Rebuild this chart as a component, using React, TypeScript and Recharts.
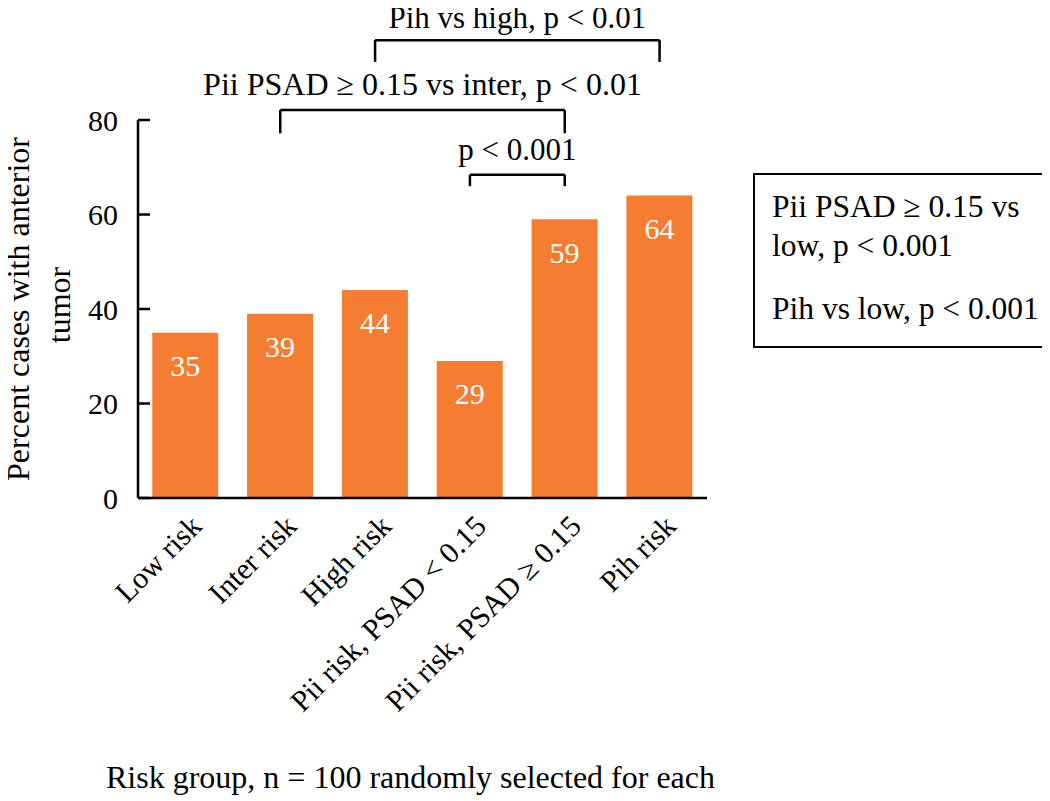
import React from 'react';
import { BarChart, Bar, XAxis, YAxis, LabelList, ReferenceLine } from 'recharts';

const FONT = '"Liberation Serif", "Times New Roman", serif';

const categories = [
  'Low risk',
  'Inter risk',
  'High risk',
  'Pii risk, PSAD < 0.15',
  'Pii risk, PSAD ≥ 0.15',
  'Pih risk',
];
const percents = [35, 39, 44, 29, 59, 64];
const yTicks = [0, 20, 40, 60, 80];

// significance brackets (y in axis units)
const bracketLabels = ['Pih vs high, p < 0.01', 'Pii PSAD ≥ 0.15 vs inter, p < 0.01', 'p < 0.001'];
const bracketFrom = ['High risk', 'Inter risk', 'Pii risk, PSAD < 0.15'];
const bracketTo = ['Pih risk', 'Pii risk, PSAD ≥ 0.15', 'Pii risk, PSAD ≥ 0.15'];
const bracketTop = [96.9, 82.1, 68.4];
const bracketBottom = [92.3, 77.2, 66.0];
const bracketFont = [31, 32, 31];
const bracketGap = [12, 15, 15];

const noteFirst = ['Pii PSAD ≥ 0.15 vs', 'low, p < 0.001'];
const noteSecond = 'Pih vs low, p < 0.001';

const data = categories.map((name, i) => ({ name, value: percents[i] }));

const XTick = (props: any) => {
  const { x, y, payload } = props;
  return (
    <g transform={`translate(${x + 18},${y + 22})`}>
      <text textAnchor="end" transform="rotate(-45)" fill="#000" fontSize={30} fontFamily={FONT}>
        {payload.value}
      </text>
    </g>
  );
};

const YLabel = (props: any) => {
  const vb = props.viewBox;
  const cy = vb.y + vb.height / 2;
  return (
    <g fill="#000" fontSize={32} fontFamily={FONT}>
      <text transform={`translate(29,${cy}) rotate(-90)`} textAnchor="middle">
        Percent cases with anterior
      </text>
      <text transform={`translate(70,${cy - 4}) rotate(-90)`} textAnchor="middle">
        tumor
      </text>
    </g>
  );
};

const XLabel = (props: any) => {
  const vb = props.viewBox;
  return (
    <text x={vb.x + vb.width / 2 - 12} y={vb.y + vb.height} textAnchor="middle" fill="#000" fontSize={32} fontFamily={FONT}>
      Risk group, n = 100 randomly selected for each
    </text>
  );
};

export default function App() {
  return (
    <div style={{ position: 'relative', left: -8, top: -8, width: 1050, height: 801, fontFamily: FONT }}>
      <BarChart
        width={1050}
        height={801}
        data={data}
        margin={{ top: 120, right: 343, left: 0, bottom: 13 }}
        barCategoryGap="15%"
      >
        <XAxis
          dataKey="name"
          interval={0}
          height={290}
          tickLine={false}
          axisLine={{ stroke: '#000', strokeWidth: 2.5 }}
          tick={<XTick />}
          label={<XLabel />}
        />
        <YAxis
          width={138}
          domain={[0, 80]}
          ticks={yTicks}
          tickSize={-12}
          tickMargin={32}
          axisLine={{ stroke: '#000', strokeWidth: 2.5 }}
          tickLine={{ stroke: '#000', strokeWidth: 2.5 }}
          tick={{ fill: '#000', fontSize: 30, fontFamily: FONT }}
          label={<YLabel />}
        />
        <Bar dataKey="value" fill="#F47D31" isAnimationActive={false}>
          <LabelList dataKey="value" position="insideTop" offset={22} fill="#fff" fontSize={30} fontFamily={FONT} />
        </Bar>
        {bracketLabels.map((label, i) => (
          <React.Fragment key={label}>
            <ReferenceLine
              segment={[{ x: bracketFrom[i], y: bracketTop[i] }, { x: bracketTo[i], y: bracketTop[i] }]}
              stroke="#000"
              strokeWidth={2.5}
              ifOverflow="visible"
              label={{ value: label, position: 'top', offset: bracketGap[i], fill: '#000', fontSize: bracketFont[i], fontFamily: FONT }}
            />
            <ReferenceLine
              segment={[{ x: bracketFrom[i], y: bracketTop[i] }, { x: bracketFrom[i], y: bracketBottom[i] }]}
              stroke="#000"
              strokeWidth={2.5}
              ifOverflow="visible"
            />
            <ReferenceLine
              segment={[{ x: bracketTo[i], y: bracketTop[i] }, { x: bracketTo[i], y: bracketBottom[i] }]}
              stroke="#000"
              strokeWidth={2.5}
              ifOverflow="visible"
            />
          </React.Fragment>
        ))}
      </BarChart>
      <div
        style={{
          position: 'absolute',
          left: 753,
          top: 173,
          width: 294,
          height: 175,
          boxSizing: 'border-box',
          border: '2px solid #000',
          padding: '12px 0 0 17px',
          fontSize: 31.5,
          lineHeight: '39px',
          whiteSpace: 'nowrap',
          color: '#000',
        }}
      >
        <div>
          {noteFirst[0]}
          <br />
          {noteFirst[1]}
        </div>
        <div style={{ marginTop: 24 }}>{noteSecond}</div>
      </div>
    </div>
  );
}
